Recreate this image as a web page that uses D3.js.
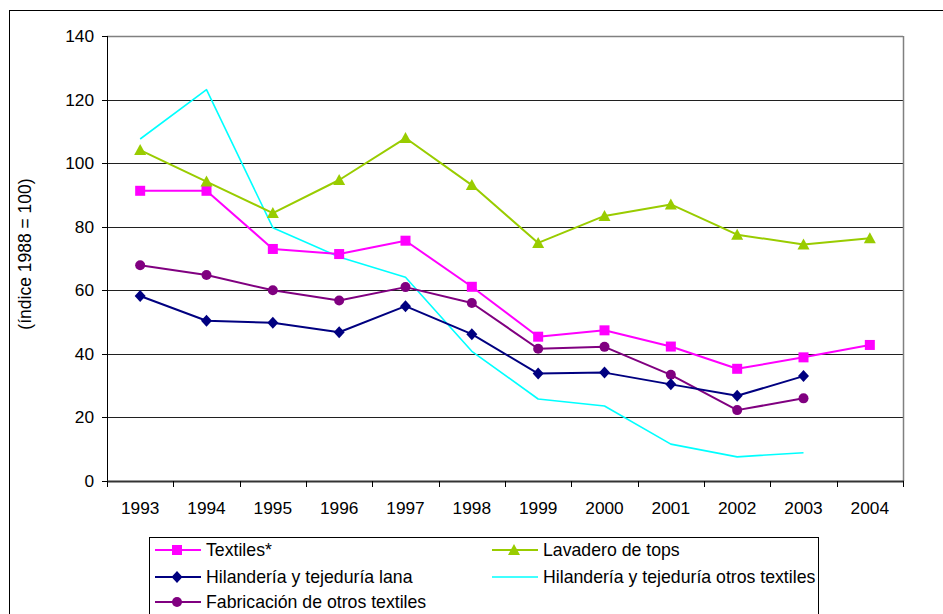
<!DOCTYPE html>
<html>
<head>
<meta charset="utf-8">
<script src="https://cdn.jsdelivr.net/npm/d3@7/dist/d3.min.js"></script>
<style>
  html, body { margin: 0; padding: 0; background: #fff; }
  svg { display: block; font-family: "Liberation Sans", Arial, sans-serif; }
</style>
</head>
<body>
<svg id="chart" width="943" height="614"></svg>
<script>
// ---- Data ----
const years = ["1993","1994","1995","1996","1997","1998","1999","2000","2001","2002","2003","2004"];
const yTicks = [0, 20, 40, 60, 80, 100, 120, 140];

const textiles   = [91.3, 91.3, 73.0, 71.4, 75.6, 61.1, 45.4, 47.4, 42.3, 35.3, 38.9, 42.8];
const lavadero   = [104.1, 94.2, 84.3, 94.7, 107.9, 93.1, 74.9, 83.4, 87.0, 77.5, 74.4, 76.4];
const hilLana    = [58.2, 50.4, 49.8, 46.8, 55.0, 46.2, 33.8, 34.1, 30.4, 26.8, 33.0, null];
const hilOtros   = [107.6, 123.1, 79.7, 70.5, 64.1, 40.8, 25.8, 23.6, 11.6, 7.6, 8.9, null];
const fabOtros   = [67.9, 64.8, 60.0, 56.8, 61.0, 56.0, 41.6, 42.2, 33.4, 22.3, 26.0, null];

const series = [
  { name: "Textiles*", values: textiles, color: "#FF00FF", marker: "square", width: 2 },
  { name: "Lavadero de tops", values: lavadero, color: "#99CC00", marker: "triangle", width: 2 },
  { name: "Hilandería y tejeduría lana", values: hilLana, color: "#000080", marker: "diamond", width: 2 },
  { name: "Hilandería y tejeduría otros textiles", values: hilOtros, color: "#00FFFF", marker: "none", width: 1.6 },
  { name: "Fabricación de otros textiles", values: fabOtros, color: "#800080", marker: "circle", width: 2 }
];
const yTitle = "(índice 1988 = 100)";

// ---- Layout ----
const svg = d3.select("#chart");
const plot = { left: 107, right: 903, top: 36, bottom: 481 };

const x = d3.scaleBand().domain(years).range([plot.left, plot.right]).padding(0);
const y = d3.scaleLinear().domain([0, 140]).range([plot.bottom, plot.top]);
const cx = d => x(d) + x.bandwidth() / 2;

// outer border
svg.append("rect")
  .attr("x", 9.5).attr("y", 10.5)
  .attr("width", 960).attr("height", 640)
  .attr("fill", "none").attr("stroke", "#000").attr("stroke-width", 1);

// gridlines
svg.append("g").selectAll("line")
  .data(yTicks.filter(t => t > 0 && t < 140))
  .join("line")
  .attr("x1", plot.left).attr("x2", plot.right)
  .attr("y1", d => Math.round(y(d)) + 0.5).attr("y2", d => Math.round(y(d)) + 0.5)
  .attr("stroke", "#202020").attr("stroke-width", 1);

// plot frame top / right (gray)
svg.append("line")
  .attr("x1", plot.left).attr("x2", plot.right)
  .attr("y1", plot.top + 0.5).attr("y2", plot.top + 0.5)
  .attr("stroke", "#808080").attr("stroke-width", 1.5);
svg.append("line")
  .attr("x1", plot.right + 0.5).attr("x2", plot.right + 0.5)
  .attr("y1", plot.top).attr("y2", plot.bottom)
  .attr("stroke", "#808080").attr("stroke-width", 1.5);

// Y axis
const yAxis = svg.append("g");
yAxis.append("line")
  .attr("x1", plot.left + 0.5).attr("x2", plot.left + 0.5)
  .attr("y1", plot.top).attr("y2", plot.bottom)
  .attr("stroke", "#000").attr("stroke-width", 1);
yAxis.selectAll("line.tick").data(yTicks).join("line")
  .attr("class", "tick")
  .attr("x1", plot.left - 5).attr("x2", plot.left)
  .attr("y1", d => Math.round(y(d)) + 0.5).attr("y2", d => Math.round(y(d)) + 0.5)
  .attr("stroke", "#000");
yAxis.selectAll("text").data(yTicks).join("text")
  .attr("x", 94).attr("y", d => y(d) + 6)
  .attr("text-anchor", "end")
  .attr("font-size", 17.3).attr("fill", "#000")
  .text(d => d);

// X axis
const xAxis = svg.append("g");
xAxis.append("line")
  .attr("x1", plot.left).attr("x2", plot.right + 1)
  .attr("y1", plot.bottom + 0.5).attr("y2", plot.bottom + 0.5)
  .attr("stroke", "#333").attr("stroke-width", 2);
const boundaries = years.map(d => x(d)).concat([x.range()[1]]);
xAxis.selectAll("line.tick").data(boundaries).join("line")
  .attr("class", "tick")
  .attr("x1", d => Math.round(d) + 0.5).attr("x2", d => Math.round(d) + 0.5)
  .attr("y1", plot.bottom).attr("y2", plot.bottom + 6)
  .attr("stroke", "#000");
xAxis.selectAll("text").data(years).join("text")
  .attr("x", d => cx(d)).attr("y", 514)
  .attr("text-anchor", "middle")
  .attr("font-size", 17.3).attr("fill", "#000")
  .text(d => d);

// Y title
svg.append("text")
  .attr("transform", "translate(31,254) rotate(-90)")
  .attr("text-anchor", "middle")
  .attr("font-size", 17.5).attr("fill", "#000")
  .text(yTitle);

// marker drawing
function drawMarker(g, type, color, px, py) {
  if (type === "square") {
    g.append("rect").attr("x", px - 5).attr("y", py - 5).attr("width", 10).attr("height", 10).attr("fill", color);
  } else if (type === "triangle") {
    g.append("path").attr("d", `M${px},${py - 6}L${px + 6},${py + 5}L${px - 6},${py + 5}Z`).attr("fill", color);
  } else if (type === "diamond") {
    g.append("path").attr("d", `M${px},${py - 6}L${px + 5.5},${py}L${px},${py + 6}L${px - 5.5},${py}Z`).attr("fill", color);
  } else if (type === "circle") {
    g.append("circle").attr("cx", px).attr("cy", py).attr("r", 5).attr("fill", color);
  }
}

// series lines
const line = d3.line()
  .defined(d => d.v !== null)
  .x(d => cx(d.year))
  .y(d => y(d.v));

const order = [3, 4, 2, 0, 1];
order.forEach(i => {
  const s = series[i];
  const pts = years.map((yr, j) => ({ year: yr, v: s.values[j] }));
  const g = svg.append("g");
  g.append("path").datum(pts)
    .attr("d", line)
    .attr("fill", "none")
    .attr("stroke", s.color)
    .attr("stroke-width", s.width)
    .attr("stroke-linejoin", "round");
  pts.filter(p => p.v !== null).forEach(p => drawMarker(g, s.marker, s.color, cx(p.year), y(p.v)));
});

// Legend
const legend = svg.append("g");
legend.append("rect")
  .attr("x", 149.5).attr("y", 537.5)
  .attr("width", 669).attr("height", 120)
  .attr("fill", "#fff").attr("stroke", "#000").attr("stroke-width", 1);
const legPos = [
  { lx: 155, rows: 550 }, { lx: 492, rows: 550 },
  { lx: 155, rows: 577 }, { lx: 492, rows: 577 },
  { lx: 155, rows: 602 }
];
series.forEach((s, i) => {
  const p = legPos[i];
  const lg = legend.append("g");
  lg.append("line")
    .attr("x1", p.lx).attr("x2", p.lx + 46)
    .attr("y1", p.rows).attr("y2", p.rows)
    .attr("stroke", s.color).attr("stroke-width", s.width);
  drawMarker(lg, s.marker, s.color, p.lx + 22, p.rows);
  lg.append("text")
    .attr("x", p.lx + 51).attr("y", p.rows + 6)
    .attr("font-size", 17.7).attr("fill", "#000")
    .text(s.name);
});
</script>
</body>
</html>
